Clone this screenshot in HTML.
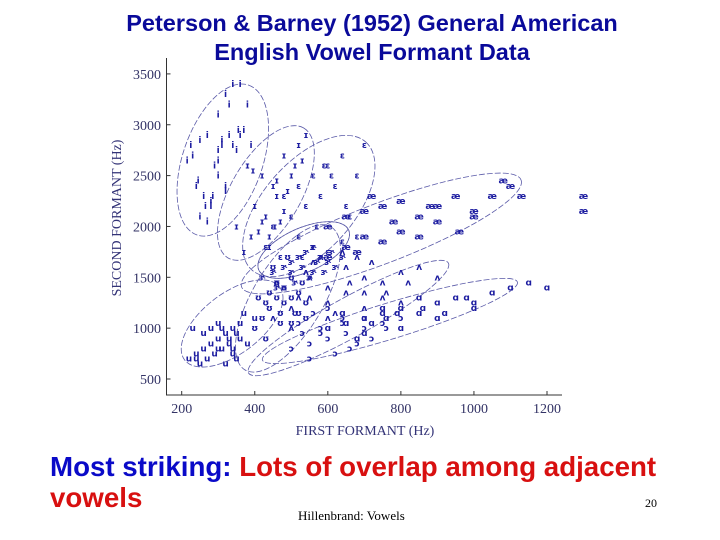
<!DOCTYPE html>
<html><head><meta charset="utf-8">
<style>
body{margin:0;width:720px;height:540px;background:#fff;overflow:hidden;position:relative;font-family:"Liberation Sans",sans-serif}
.t{position:absolute;left:0;width:744px;text-align:center;color:#0a0a9a;font-weight:bold;font-size:23.5px}
.b{position:absolute;left:50px;font-weight:bold;font-size:27.7px;white-space:nowrap}
</style></head><body>
<div class="t" style="top:10px">Peterson &amp; Barney (1952) General American</div>
<div class="t" style="top:39px">English Vowel Formant Data</div>
<svg id="chart" width="720" height="540" style="position:absolute;left:0;top:0" font-family="Liberation Serif, serif"></svg>
<div class="b" style="top:451px"><span style="color:#0a0ac8">Most striking:</span> <span style="color:#d81010">Lots of overlap among adjacent</span></div>
<div class="b" style="top:482px;color:#d81010">vowels</div>
<div style="position:absolute;left:298px;top:508px;font-family:'Liberation Serif',serif;font-size:13px">Hillenbrand: Vowels</div>
<div style="position:absolute;left:645px;top:496px;font-family:'Liberation Serif',serif;font-size:12px">20</div>
<script>
const xTicks=[200,400,600,800,1000,1200];
const yTicks=[500,1000,1500,2000,2500,3000,3500];
const vowelNames=["i","ɪ","ɛ","æ","ʌ","ɑ","ɔ","ʊ","u","ɝ"];
const f1_i=[230,250,270,300,320,340,360,380,240,260,280,310,330,350,370,290,300,320,250,270,390,330,300,280,360,215,225,310,340,355,265,285,320,300,245];
const f2_i=[2700,2850,2900,3100,3300,3400,3400,3200,2400,2300,2200,2800,2900,2750,2950,2600,2500,2350,2100,2050,2800,3200,2650,2250,2900,2650,2800,2850,2800,2950,2200,2300,2400,2750,2450];
const f1_I=[380,420,450,480,520,540,400,430,460,500,350,390,440,470,510,530,410,370,460,490,420,440,480,455,395];
const f2_I=[2600,2500,2400,2700,2800,2900,2200,2100,2300,2500,2000,1900,1800,2050,2600,2650,1950,1750,2450,2350,2050,1900,2150,2000,2550];
const f1_E=[480,520,560,600,640,680,700,450,500,540,580,620,660,520,570,610,430,470,590,650,560,600,640,680,530];
const f2_E=[2300,2400,2500,2600,2700,2500,2800,2000,2100,2200,2300,2400,2100,1900,2000,2500,1800,1700,2600,2200,1800,1750,1850,1900,1700];
const f1_ae=[600,650,700,750,800,850,900,950,1000,1050,1100,700,800,900,1000,650,750,850,1130,600,1300,1300,680,720,780,880,960,1080];
const f2_ae=[2000,2100,2150,2200,2250,2100,2200,2300,2100,2300,2400,1900,1950,2050,2150,1800,1850,1900,2300,1700,2300,2150,1750,2300,2050,2200,1950,2450];
const f1_V=[450,500,550,600,650,700,750,800,850,500,600,700,800,900,550,650,480,750,620,520,560,580,640,680,720,460,540,600,660,700,760,820];
const f2_V=[1100,1200,1300,1400,1350,1500,1450,1550,1600,1000,1100,1200,1250,1500,1500,1600,1400,1300,1150,1300,1650,1700,1750,1700,1650,1450,1550,1250,1450,1350,1350,1450];
const f1_A=[600,650,700,750,800,850,900,950,1000,1050,700,800,900,1100,1150,1200,750,850,680,1000,720,760,790,640,860,920,980];
const f2_A=[1000,1050,1100,1150,1200,1150,1250,1300,1200,1350,950,1000,1100,1400,1450,1400,1200,1300,900,1250,1050,1100,1150,1150,1200,1150,1300];
const f1_O=[500,550,600,650,700,750,550,620,680,720,580,640,800,760,530,560,600,640,660,700,520,580];
const f2_O=[800,850,900,950,1000,1050,700,750,850,900,1000,1100,1100,1000,950,1150,1200,1050,800,1100,1050,950];
const f1_U=[400,420,440,460,480,500,520,540,430,470,510,450,490,530,410,440,460,480,500,520,430,470,500,540];
const f2_U=[1000,1100,1200,1300,1400,1500,1350,1250,900,1050,1150,1600,1700,1450,1300,1350,1450,1250,1050,1150,1250,1150,1300,1100];
const f1_u=[220,240,260,280,300,320,340,360,380,250,270,290,310,330,350,230,300,400,320,260,330,340,350,310,280,300,360,370,240,340];
const f2_u=[700,750,800,850,900,950,1000,900,850,650,700,750,800,850,700,1000,1050,1100,650,950,900,800,950,1000,1000,800,1050,1150,700,750];
const f1_R=[420,450,480,500,520,540,560,580,600,620,460,510,550,590,640,530,570,610,500,560];
const f2_R=[1500,1550,1600,1650,1700,1750,1800,1700,1650,1600,1400,1450,1500,1550,1700,1600,1650,1750,1550,1550];
const ellA_f1=[383,534,704,1129,930,1119,657,609,468,411];
const ellA_f2=[3390,2968,2830,2457,1640,1454,1965,1995,1405,1572];
const ellB_f1=[242,327,392,364,383,421,411,373,208,657];
const ellB_f2=[1916,1690,1572,1405,559,687,1572,590,687,1965];
const ellMinor=[40,35,45,30,20,18,22,35,30,0];

const NS="http://www.w3.org/2000/svg";
const svg=document.getElementById('chart');
const X=f=>181.7+(f-200)*0.3653;
const Y=f=>379-(f-500)*0.1017;
const col="#1c1ca0";
function mk(tag,attrs){const e=document.createElementNS(NS,tag);for(const k in attrs)e.setAttribute(k,attrs[k]);svg.appendChild(e);return e;}
let ax=mk('path',{d:'M166.5,58 V395 H562',stroke:'#333',fill:'none','stroke-width':1});


xTicks.forEach(v=>{
 let l=mk('line',{x1:X(v),x2:X(v),y1:395,y2:391,stroke:'#333'});
 
 
 let t=mk('text',{x:X(v),y:413,'text-anchor':'middle','font-size':14,fill:'#333366'});t.textContent=v;
 
 
});
yTicks.forEach(v=>{
 let l=mk('line',{x1:166.5,x2:170.5,y1:Y(v),y2:Y(v),stroke:'#333'});
 
 
 let t=mk('text',{x:161,y:Y(v)+5,'text-anchor':'end','font-size':14,fill:'#333366'});t.textContent=v;
 
 
});
let xt=mk('text',{x:365,y:435,'text-anchor':'middle','font-size':14,fill:'#333377'});xt.textContent='FIRST FORMANT (Hz)';


let yt=mk('text',{x:0,y:0,'text-anchor':'middle','font-size':14,fill:'#333377',transform:'translate(121,218) rotate(-90)'});yt.textContent='SECOND FORMANT (Hz)';


const sets=[[f1_i,f2_i],[f1_I,f2_I],[f1_E,f2_E],[f1_ae,f2_ae],[f1_V,f2_V],[f1_A,f2_A],[f1_O,f2_O],[f1_U,f2_U],[f1_u,f2_u],[f1_R,f2_R]];
const minors=ellMinor.map(m=>m||22);
for(let i=0;i<ellA_f1.length;i++){
 const ax1=X(ellA_f1[i]),ay1=Y(ellA_f2[i]),bx=X(ellB_f1[i]),by=Y(ellB_f2[i]);
 const cx=(ax1+bx)/2,cy=(ay1+by)/2,rx=Math.hypot(ax1-bx,ay1-by)/2,ang=Math.atan2(ay1-by,ax1-bx)*180/Math.PI;
 let e=mk('ellipse',{cx:cx,cy:cy,rx:rx,ry:minors[i],transform:`rotate(${ang} ${cx} ${cy})`,fill:'none',stroke:'#5a5aa8','stroke-width':0.8,'stroke-dasharray':'6 2'});
 
 
}
sets.forEach((s,k)=>{
 s[0].forEach((f1,j)=>{
  let t=mk('text',{x:X(f1),y:Y(s[1][j])+3,'text-anchor':'middle','font-size':9,'font-weight':'bold',fill:col,'font-family':'DejaVu Sans, sans-serif'});
  t.textContent=vowelNames[k];
  
  
 });
});
</script>
</body></html>
